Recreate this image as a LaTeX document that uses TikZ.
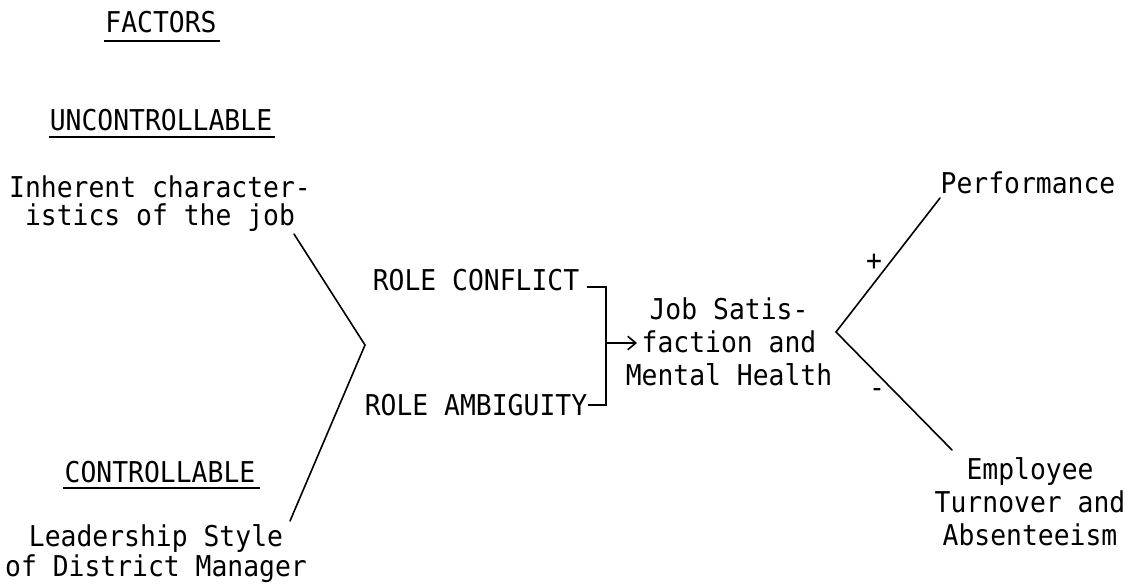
\documentclass[tikz,border=0pt]{standalone}
\usepackage{fontspec}
\newfontfamily\tw[FakeStretch=0.92]{DejaVu Sans Mono}
\usetikzlibrary{arrows.meta}
\begin{document}
\begin{tikzpicture}[x=0.75pt,y=-0.75pt,
  txt/.style={inner sep=0pt, anchor=base, font=\tw\fontsize{21.5pt}{20.5pt}\selectfont},
  lblock/.style={txt, align=center, font=\tw\fontsize{21.5pt}{20.8pt}\selectfont},
  rblock/.style={txt, align=center, font=\tw\fontsize{21.5pt}{24.4pt}\selectfont},
  ln/.style={line width=1.2pt, line cap=round, line join=miter},
  ul/.style={line width=1.3pt}]
\fill[white] (0,0) rectangle (1138,585);
\useasboundingbox (0,0) rectangle (1138,585);

% left column (base anchor of a multi-line node = its last line)
\node[txt] (factors) at (161,33) {FACTORS};
\node[txt] (unc) at (161,130) {UNCONTROLLABLE};
\node[lblock] (inh) at (160,225) {Inherent character-\\istics of the job};
\node[txt] (ctrl) at (160,482) {CONTROLLABLE};
\node[lblock] (lead) at (156,576) {Leadership Style\\of District Manager};

\draw[ul] ([shift={(-1,8)}]factors.base west) -- ([shift={(3,8)}]factors.base east);
\draw[ul] ([shift={(-1,7)}]unc.base west) -- ([shift={(3,7)}]unc.base east);
\draw[ul] ([shift={(-1,6)}]ctrl.base west) -- ([shift={(4,6)}]ctrl.base east);

% left V
\coordinate (a1) at (294,234);
\coordinate (v1) at (365,345);
\coordinate (a2) at (290,521);
\draw[ln] (a1) -- (v1) -- (a2);

% role nodes
\node[txt] (rc) at (476,290) {ROLE CONFLICT};
\node[txt] (ra) at (476,415) {ROLE AMBIGUITY};

\coordinate (bt) at (606,287);
\coordinate (bb) at (606,405);
\coordinate (bm) at (606,343);
\draw[ln, line cap=butt] ([shift={(8,-3)}]rc.base east) -- (bt) -- (bb) -- ([shift={(1,-10)}]ra.base east);

% job satisfaction
\node[rblock] (job) at (729,385) {Job Satis-\\faction and\\Mental Health};
\draw[ln, -{Straight Barb[length=6pt,width=10pt,line width=1.2pt]}] (bm) -- ++(31,0);

% right V
\node[txt] (perf) at (1028,193) {Performance};
\node[rblock] (emp) at (1030,545) {Employee\\Turnover and\\Absenteeism};
\coordinate (v2) at (836,332);
\coordinate (p1) at (940,198);
\coordinate (e1) at (952,450);
\draw[ln] (p1) -- (v2) -- (e1);
\node[txt, anchor=center] (plus) at (874,262) {+};
\node[txt, anchor=center] (minus) at (877,393) {-};
\end{tikzpicture}
\end{document}
